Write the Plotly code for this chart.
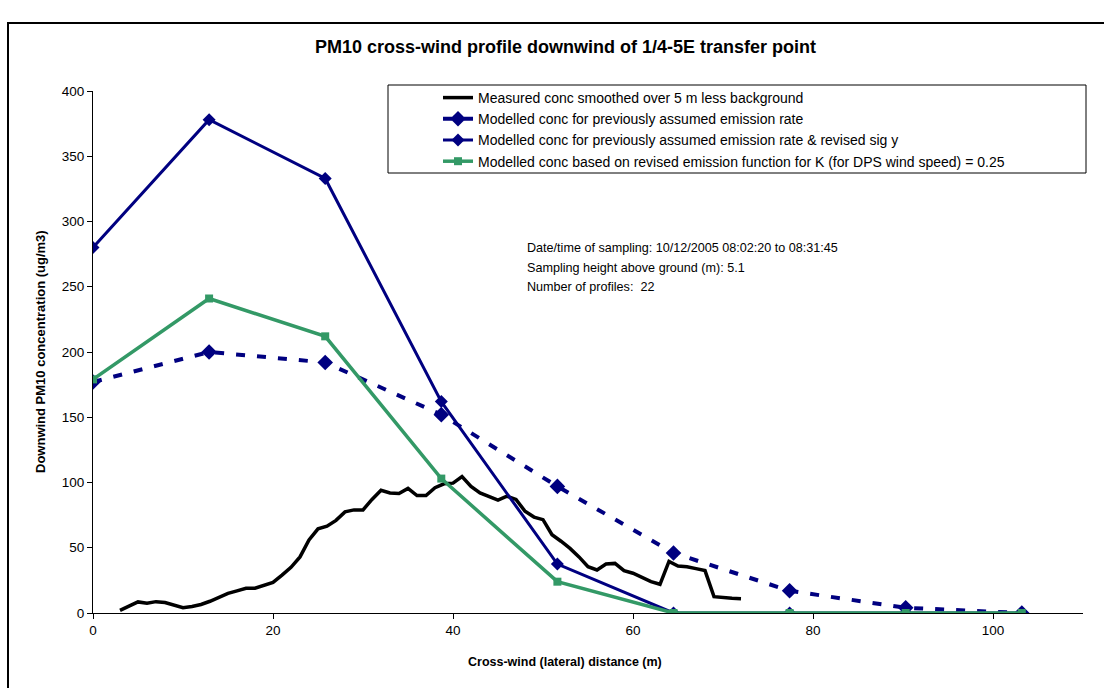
import plotly.graph_objects as go

# Cross-wind distance of the modelled receptor points (m)
model_x = [0, 12.9, 25.8, 38.7, 51.6, 64.5, 77.4, 90.3, 103.2]
model_prev = [177, 200, 192, 152, 97, 46, 17, 4, 0]
model_prev_sigy = [280, 378, 333, 162, 37.5, 0, 0, 0, 0]
model_revised = [179, 241, 212, 103, 24, 0, 0, 0, 0]

# Measured concentration, smoothed over 5 m, background removed
meas_x = list(range(3, 73))
meas_y = [2, 5, 8.5, 7.5, 8.7, 8, 6, 4, 5, 6.5,
          9, 12, 15, 17, 19, 19, 21, 23.5, 29, 35,
          43, 56, 64.5, 66.5, 71, 77.5, 79, 79, 87, 94,
          92, 91.5, 95.5, 90, 90, 96, 99, 99.5, 104.5, 97,
          92, 89, 86.5, 89.5, 87, 78, 73.5, 71.5, 60, 55,
          49.5, 43, 35.5, 33, 37.5, 38, 32.5, 30.5, 27.5, 24,
          22, 39.5, 36, 35.5, 34, 32.5, 12.5, 11.7, 11.3, 11]

info_lines = ["Date/time of sampling: 10/12/2005 08:02:20 to 08:31:45",
              "Sampling height above ground (m): 5.1",
              "Number of profiles:  22"]

NAVY = "#000080"
GREEN = "#339966"
FONT = "Liberation Sans, Arial, sans-serif"

fig = go.Figure()
fig.add_trace(go.Scatter(
    x=meas_x, y=meas_y, mode="lines",
    name="Measured conc smoothed over 5 m less background",
    line=dict(color="black", width=3.5)))
fig.add_trace(go.Scatter(
    x=model_x, y=model_prev, mode="lines+markers",
    name="Modelled conc for previously assumed emission rate",
    line=dict(color=NAVY, width=4, dash="9px,12px"),
    marker=dict(symbol="diamond", size=12, color=NAVY)))
fig.add_trace(go.Scatter(
    x=model_x, y=model_prev_sigy, mode="lines+markers",
    name="Modelled conc for previously assumed emission rate & revised sig y",
    line=dict(color=NAVY, width=3),
    marker=dict(symbol="diamond", size=10, color=NAVY)))
fig.add_trace(go.Scatter(
    x=model_x, y=model_revised, mode="lines+markers",
    name="Modelled conc based on revised emission function for K (for DPS wind speed) = 0.25",
    line=dict(color=GREEN, width=3.5),
    marker=dict(symbol="square", size=8, color=GREEN)))

# Pixel helpers for the plot frame (plot area spans 93..1083 x 91..613)
L, R, T, B = 93, 1083, 91, 613
def px(p):
    return (p - L) / (R - L)
def py(p):
    return (B - p) / (B - T)

annotations = [
    dict(text="<b>PM10 cross-wind profile downwind of 1/4-5E transfer point</b>",
         x=px(565), y=py(47), xref="paper", yref="paper", showarrow=False,
         xanchor="center", yanchor="middle",
         font=dict(size=18, family=FONT, color="black")),
    dict(text="<b>Cross-wind (lateral) distance (m)</b>",
         x=px(565), y=py(662), xref="paper", yref="paper", showarrow=False,
         xanchor="center", yanchor="middle",
         font=dict(size=12.5, family=FONT, color="black")),
    dict(text="<b>Downwind PM10 concentration (ug/m3)</b>", textangle=-90,
         x=px(40), y=py(352), xref="paper", yref="paper", showarrow=False,
         xanchor="center", yanchor="middle",
         font=dict(size=13, family=FONT, color="black")),
]
for i, line in enumerate(info_lines):
    annotations.append(dict(
        text=line, x=px(525), y=py(248 + 19.5 * i), xref="paper", yref="paper",
        xanchor="left", yanchor="middle", showarrow=False,
        font=dict(size=12.6, family=FONT, color="black")))

shapes = [
    # outer chart frame
    dict(type="rect", xref="paper", yref="paper",
         x0=px(8), x1=px(1110), y0=py(694), y1=py(23),
         line=dict(color="black", width=2)),
    # legend frame
    dict(type="rect", xref="paper", yref="paper",
         x0=px(388), x1=px(1086), y0=py(173), y1=py(85),
         line=dict(color="black", width=1), fillcolor="white", layer="below"),
]

fig.update_layout(
    width=1104, height=688,
    margin=dict(l=L, r=1104 - R, t=T, b=688 - B),
    paper_bgcolor="white", plot_bgcolor="white",
    font=dict(family=FONT, size=13, color="black"),
    showlegend=True,
    legend=dict(x=px(438), y=py(82), xanchor="left", yanchor="top",
                bgcolor="rgba(0,0,0,0)", borderwidth=0,
                font=dict(size=14, family=FONT, color="black"),
                tracegroupgap=0),
    annotations=annotations,
    shapes=shapes,
    xaxis=dict(range=[0, 110], dtick=20, tick0=0, showgrid=False, zeroline=False,
               showline=True, linecolor="black", linewidth=1,
               ticks="outside", ticklen=5, tickcolor="black",
               tickfont=dict(size=13.5, family=FONT, color="black")),
    yaxis=dict(range=[0, 400], dtick=50, tick0=0, showgrid=False, zeroline=False,
               showline=True, linecolor="black", linewidth=1,
               ticks="outside", ticklen=5, tickcolor="black",
               tickfont=dict(size=13.5, family=FONT, color="black")),
)

fig.write_html("out.html")
